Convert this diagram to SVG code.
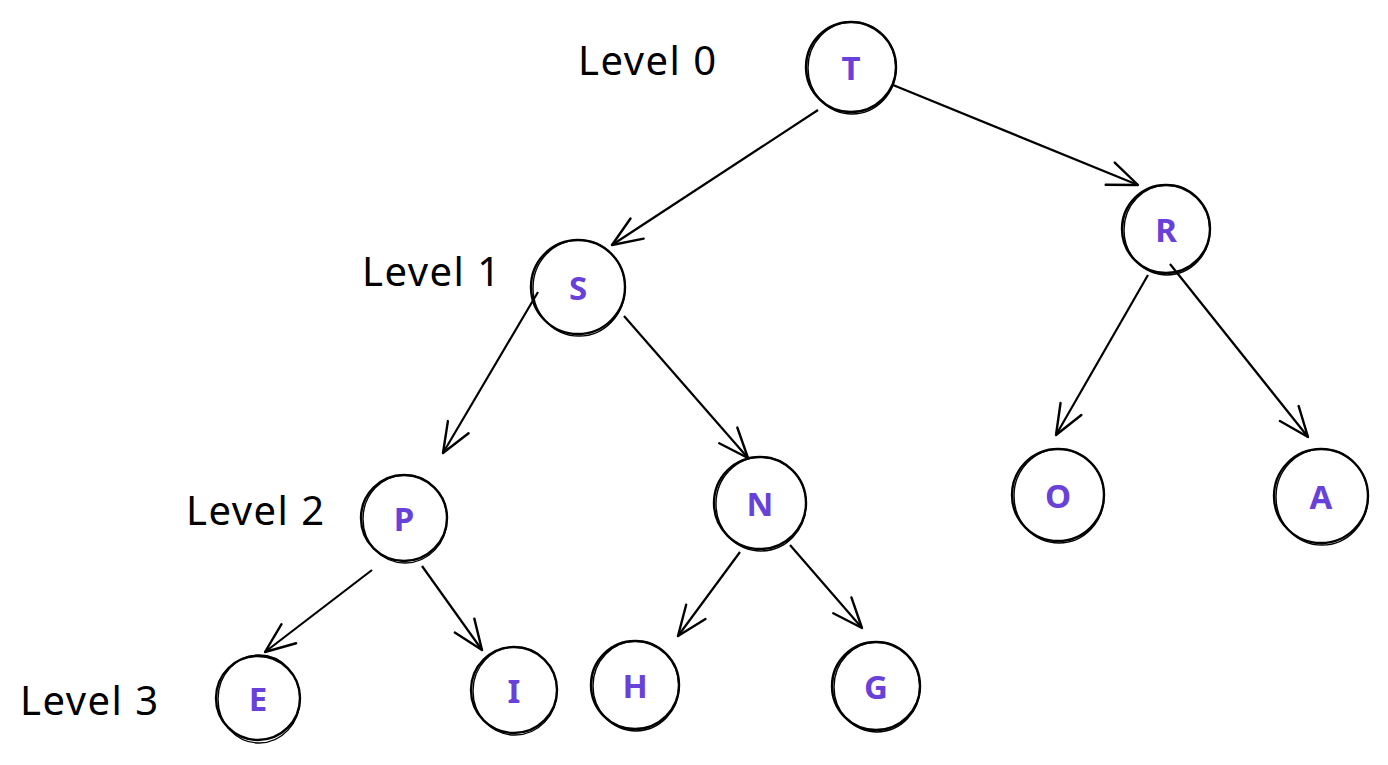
<svg xmlns="http://www.w3.org/2000/svg" width="1388" height="765" viewBox="0 0 1388 765">
<style>
.node circle{fill:none;stroke:#000;stroke-width:2.4}
.node ellipse{fill:none;stroke:#000;stroke-width:1.4}
.node text{font-family:"Noto Sans","DejaVu Sans",sans-serif;font-size:33px;font-weight:bold;fill:#6741d9;text-anchor:middle;dominant-baseline:central}
.lbl{font-family:"Noto Sans","DejaVu Sans",sans-serif;font-size:40px;letter-spacing:1.5px;fill:#000}
.edge{stroke:#000;stroke-width:2.2;fill:none;marker-end:url(#arr)}
</style>
<defs>
<marker id="arr" viewBox="0 0 34 34" refX="32" refY="17" markerWidth="34" markerHeight="34" markerUnits="userSpaceOnUse" orient="auto">
<path d="M2 5 L32 17 L2 29" fill="none" stroke="#000" stroke-width="2.4" stroke-linecap="round" stroke-linejoin="round"/>
</marker>
</defs>
<rect width="1388" height="765" fill="#fff"/>
<g id="connectors">
<line class="edge" x1="818" y1="110" x2="612" y2="245"/>
<line class="edge" x1="893" y1="85" x2="1138" y2="185"/>
<line class="edge" x1="538" y1="292" x2="443" y2="453"/>
<line class="edge" x1="624" y1="316" x2="748" y2="458"/>
<line class="edge" x1="1148" y1="275" x2="1056" y2="435"/>
<line class="edge" x1="1170" y1="264" x2="1308" y2="437"/>
<line class="edge" x1="372" y1="570" x2="265" y2="652"/>
<line class="edge" x1="422" y1="566" x2="482" y2="650"/>
<line class="edge" x1="740" y1="552" x2="678" y2="636"/>
<line class="edge" x1="790" y1="545" x2="862" y2="628"/>
</g>
<g id="labels">
<text class="lbl" x="578" y="75">Level 0</text>
<text class="lbl" x="362" y="286">Level 1</text>
<text class="lbl" x="186" y="525">Level 2</text>
<text class="lbl" x="20" y="715">Level 3</text>
</g>
<g id="node-T" class="node"><circle cx="851" cy="67" r="45"/><ellipse cx="852" cy="68" rx="44" ry="46"/><text x="851" y="67">T</text></g>
<g id="node-R" class="node"><circle cx="1166" cy="229" r="44"/><ellipse cx="1167" cy="230" rx="43" ry="45"/><text x="1166" y="229">R</text></g>
<g id="node-S" class="node"><circle cx="578" cy="287" r="47"/><ellipse cx="579" cy="288" rx="46" ry="48"/><text x="578" y="287">S</text></g>
<g id="node-P" class="node"><circle cx="404" cy="518" r="43"/><ellipse cx="405" cy="519" rx="42" ry="44"/><text x="404" y="518">P</text></g>
<g id="node-N" class="node"><circle cx="760" cy="503" r="46"/><ellipse cx="761" cy="504" rx="45" ry="47"/><text x="760" y="503">N</text></g>
<g id="node-O" class="node"><circle cx="1058" cy="495" r="46"/><ellipse cx="1059" cy="496" rx="45" ry="47"/><text x="1058" y="495">O</text></g>
<g id="node-A" class="node"><circle cx="1321" cy="496" r="47"/><ellipse cx="1322" cy="497" rx="46" ry="48"/><text x="1321" y="496">A</text></g>
<g id="node-E" class="node"><circle cx="258" cy="698" r="42"/><ellipse cx="259" cy="699" rx="41" ry="44"/><text x="258" y="698">E</text></g>
<g id="node-I" class="node"><circle cx="514" cy="690" r="43"/><ellipse cx="515" cy="691" rx="42" ry="44"/><text x="514" y="690">I</text></g>
<g id="node-H" class="node"><circle cx="635" cy="685" r="44"/><ellipse cx="636" cy="686" rx="43" ry="45"/><text x="635" y="685">H</text></g>
<g id="node-G" class="node"><circle cx="876" cy="686" r="44"/><ellipse cx="877" cy="687" rx="43" ry="45"/><text x="876" y="686">G</text></g>
</svg>
